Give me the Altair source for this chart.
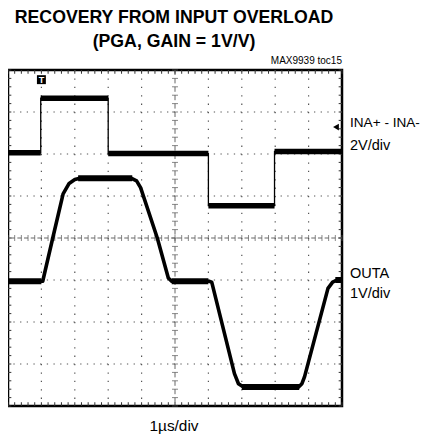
import altair as alt
import numpy as np
import pandas as pd

# ---- data (time in divisions, level in divisions) ----
ina_t = [0.0, 0.98, 0.98, 3.0, 3.0, 6.0, 6.0, 7.98, 7.98, 10.0]
ina_v = [2.03, 2.03, 3.33, 3.33, 2.01, 2.01, 0.77, 0.77, 2.06, 2.06]

outa_t = [0.0, 1.04, 1.34, 1.65, 1.83, 2.0, 2.15, 3.7, 3.85, 3.97, 4.47, 4.8, 4.9,
          6.02, 6.1, 6.78, 6.9, 7.05, 8.7, 8.8, 8.88, 9.58, 9.72, 9.85, 10.0]
outa_v = [-1.03, -1.03, 0.0, 1.05, 1.3, 1.39, 1.42, 1.42, 1.36, 1.2, 0.0, -0.95, -1.03,
          -1.03, -1.05, -3.23, -3.47, -3.55, -3.55, -3.47, -3.3, -1.2, -1.05, -1.0, -1.0]

outa_plat_t0 = [0.0, 2.1, 4.9, 7.0, 9.8]
outa_plat_t1 = [1.0, 3.72, 6.0, 8.72, 10.0]
outa_plat_v = [-1.03, 1.42, -1.03, -3.55, -1.0]

trigger_time = [1.0]
trigger_level = [2.64]

W, H = 334, 336
XS = alt.Scale(domain=[0, 10], nice=False, zero=False)
YS = alt.Scale(domain=[-4, 4], nice=False, zero=False)
FONT = "Liberation Sans, Arial, Helvetica, sans-serif"

ina_df = pd.DataFrame({"t": ina_t, "v": ina_v, "o": range(len(ina_t))})
ina_seg = pd.DataFrame({"t0": ina_t[0::2], "t1": ina_t[1::2], "v": ina_v[0::2]})
outa_df = pd.DataFrame({"t": outa_t, "v": outa_v, "o": range(len(outa_t))})
outa_seg = pd.DataFrame({"t0": outa_plat_t0, "t1": outa_plat_t1, "v": outa_plat_v})

# grid helpers
vx = pd.DataFrame({"x": [1, 2, 3, 4, 6, 7, 8, 9]})
hy = pd.DataFrame({"y": [-3, -2, -1, 1, 2, 3]})
minor_x = np.round(np.arange(0, 10.001, 0.2), 3)
minor_y = np.round(np.arange(-4, 4.001, 0.2), 3)

gv = alt.Chart(vx).mark_rule(color="#555", strokeWidth=1.2, strokeDash=[1.3, 7.1]).encode(
    x=alt.X("x:Q", scale=XS, axis=None))
gh = alt.Chart(hy).mark_rule(color="#555", strokeWidth=1.2, strokeDash=[1.3, 5.38]).encode(
    y=alt.Y("y:Q", scale=YS, axis=None))

cx = alt.Chart(pd.DataFrame({"x": [5]})).mark_rule(color="#666", strokeWidth=1, strokeDash=[5, 3.4]).encode(
    x=alt.X("x:Q", scale=XS, axis=None))
cy = alt.Chart(pd.DataFrame({"y": [0]})).mark_rule(color="#666", strokeWidth=1, strokeDash=[4, 2.68]).encode(
    y=alt.Y("y:Q", scale=YS, axis=None))

tx = alt.Chart(pd.DataFrame({"x": minor_x, "y": 0.0})).mark_tick(
    orient="vertical", size=6, thickness=1, color="#555").encode(
    x=alt.X("x:Q", scale=XS, axis=None), y=alt.Y("y:Q", scale=YS, axis=None))
ty = alt.Chart(pd.DataFrame({"y": minor_y, "x": 5.0})).mark_tick(
    orient="horizontal", size=6, thickness=1, color="#555").encode(
    x=alt.X("x:Q", scale=XS, axis=None), y=alt.Y("y:Q", scale=YS, axis=None))

bt = pd.DataFrame({"x": np.concatenate([minor_x, minor_x]),
                   "y": [-4.0] * len(minor_x) + [4.0] * len(minor_x),
                   "y2": [-3.91] * len(minor_x) + [3.91] * len(minor_x)})
bticks = alt.Chart(bt).mark_rule(color="#333", strokeWidth=1).encode(
    x=alt.X("x:Q", scale=XS, axis=None), y=alt.Y("y:Q", scale=YS, axis=None), y2="y2:Q")
lt = pd.DataFrame({"y": np.concatenate([minor_y, minor_y]),
                   "x": [0.0] * len(minor_y) + [10.0] * len(minor_y),
                   "x2": [0.1] * len(minor_y) + [9.9] * len(minor_y)})
lticks = alt.Chart(lt).mark_rule(color="#333", strokeWidth=1).encode(
    y=alt.Y("y:Q", scale=YS, axis=None), x=alt.X("x:Q", scale=XS, axis=None), x2="x2:Q")

# traces
ina_line = alt.Chart(ina_df).mark_line(color="black", strokeWidth=1.3).encode(
    x=alt.X("t:Q", scale=XS, axis=None), y=alt.Y("v:Q", scale=YS, axis=None), order="o:Q")
ina_thick = alt.Chart(ina_seg).mark_rule(color="black", strokeWidth=5.5).encode(
    x=alt.X("t0:Q", scale=XS, axis=None), x2="t1:Q", y=alt.Y("v:Q", scale=YS, axis=None))
outa_line = alt.Chart(outa_df).mark_line(color="black", strokeWidth=3.6, strokeJoin="round").encode(
    x=alt.X("t:Q", scale=XS, axis=None), y=alt.Y("v:Q", scale=YS, axis=None), order="o:Q")
outa_thick = alt.Chart(outa_seg).mark_rule(color="black", strokeWidth=6).encode(
    x=alt.X("t0:Q", scale=XS, axis=None), x2="t1:Q", y=alt.Y("v:Q", scale=YS, axis=None))

# markers
trig = pd.DataFrame({"x": trigger_time, "y": [3.77]})
trig_pt = alt.Chart(trig).mark_point(shape="square", filled=True, color="black", size=80, opacity=1).encode(
    x=alt.X("x:Q", scale=XS, axis=None), y=alt.Y("y:Q", scale=YS, axis=None))
trig_t = alt.Chart(trig).mark_text(text="T", color="white", fontSize=9, fontWeight="bold",
                                   font="Liberation Sans", baseline="middle").encode(
    x=alt.X("x:Q", scale=XS, axis=None), y=alt.Y("y:Q", scale=YS, axis=None))
lvl = pd.DataFrame({"x": [9.82], "y": trigger_level})
lvl_pt = alt.Chart(lvl).mark_point(shape="triangle-left", filled=True, color="black", size=45, opacity=1).encode(
    x=alt.X("x:Q", scale=XS, axis=None), y=alt.Y("y:Q", scale=YS, axis=None))

# texts (pixel positions relative to the plot area)
def txt(s, x, y, size, align="left", weight="normal", font=FONT):
    return alt.Chart(pd.DataFrame({"a": [0]})).mark_text(
        text=s, align=align, baseline="alphabetic", fontSize=size, fontWeight=weight,
        font=font, color="black").encode(x=alt.value(x), y=alt.value(y))

texts = [
    txt("RECOVERY FROM INPUT OVERLOAD", 166, -47, 17.7, "center", "bold"),
    txt("(PGA, GAIN = 1V/V)", 166, -23, 17.7, "center", "bold"),
    txt("MAX9939 toc15", 334, -6, 10, "right"),
    txt("INA+ - INA-", 342, 57, 13.6),
    txt("2V/div", 342, 80, 14.5),
    txt("OUTA", 342, 208, 14.5),
    txt("1V/div", 342, 228, 14.5),
    txt("1µs/div", 166, 361, 15.4, "center"),
]

chart = alt.layer(
    gv, gh, cx, cy, tx, ty, bticks, lticks,
    ina_line, ina_thick, outa_line, outa_thick,
    trig_pt, trig_t, lvl_pt, *texts
).properties(
    width=W, height=H,
    autosize=alt.AutoSizeParams(type="none"),
    padding={"left": 0, "top": 62, "right": 79, "bottom": 29},
).configure_view(stroke="black", strokeWidth=2.5)

chart.save("out.html", embed_options={"renderer": "svg", "actions": False})
